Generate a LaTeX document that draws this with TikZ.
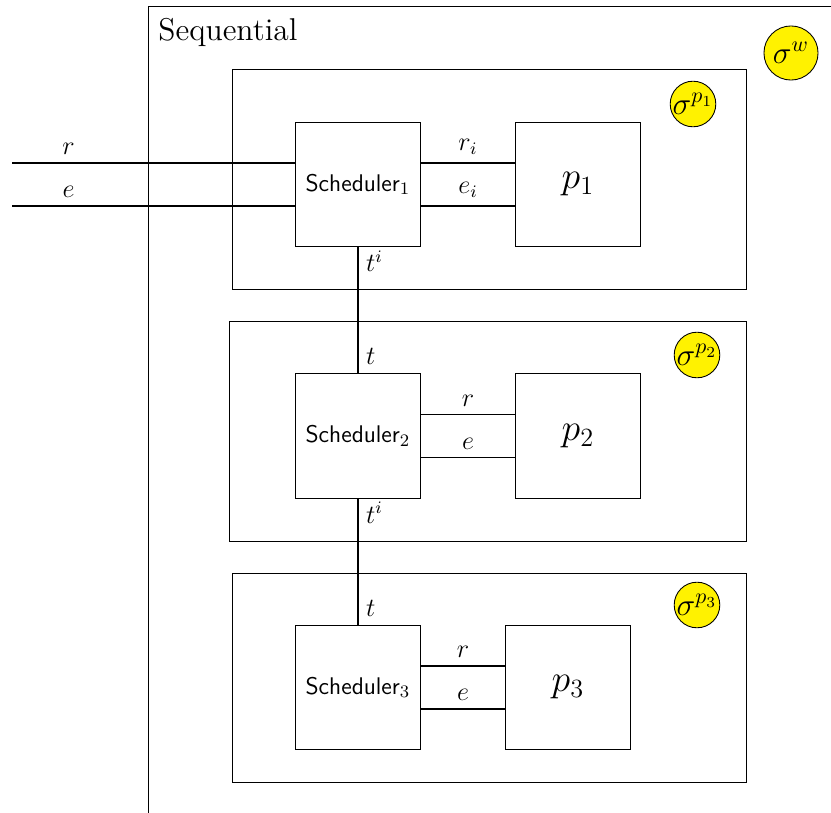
\documentclass[tikz,border=0pt]{standalone}
\usepackage{tikz}
\usetikzlibrary{positioning}

\begin{document}
\begin{tikzpicture}[
        x=0.4566pt, y=-0.4566pt,
        scheduler/.style={rectangle, draw, minimum width=57pt, minimum height=57pt, inner sep=0pt, font=\sffamily\fontsize{11}{13}\selectfont},
        process/.style={rectangle, draw, minimum width=57pt, minimum height=57pt, inner sep=0pt, font=\LARGE},
        stage/.style={rectangle, draw, inner sep=0pt},
        store/.style={circle, draw, fill=yellow, inner sep=0pt, font=\Large},
        wire/.style={thick},
        lbl/.style={font=\large}
    ]
%
    % Canvas
    \useasboundingbox (0,0) rectangle (831,813);
    \clip (0,0) rectangle (831,813);
%
    % Outer frame
    \draw (148,6) rectangle (900,900);
    \node[anchor=base west, inner sep=0pt, font=\Large] (title) at (158,41) {Sequential};
    \node[store, minimum size=24.7pt] (sw) at (791,53) {$\sigma^{w}$};
%
    % Stages
    \node[stage, minimum width=234.7pt, minimum height=100.5pt] (stage1) at (489,179) {};
    \node[stage, minimum width=236.1pt, minimum height=100.5pt] (stage2) at (487.5,431) {};
    \node[stage, minimum width=234.7pt, minimum height=95.4pt] (stage3) at (489,677.5) {};
%
    % States
    \node[store, minimum size=20pt] (sp1) at (693,104) {$\sigma^{p_1}$};
    \node[store, minimum size=20pt] (sp2) at (697,355) {$\sigma^{p_2}$};
    \node[store, minimum size=20pt] (sp3) at (697,605) {$\sigma^{p_3}$};
%
    % Schedulers and processes
    \node[scheduler] (s1) at (358,184.5) {Scheduler$_1$};
    \node[scheduler] (s2) at (358,436) {Scheduler$_2$};
    \node[scheduler] (s3) at (358,687.5) {Scheduler$_3$};
    \node[process] (p1) at (578,184.5) {$p_1$};
    \node[process] (p2) at (578,436) {$p_2$};
    \node[process] (p3) at (568,687.5) {$p_3$};
%
    % Inputs
    \coordinate (rin) at (12,163);
    \coordinate (ein) at (12,206);
    \draw[wire] (rin) -- (rin -| s1.west) node[lbl, pos=0.2, above] {$r$};
    \draw[wire] (ein) -- (ein -| s1.west) node[lbl, pos=0.2, above] {$e$};
%
    % Scheduler to process
    \draw[wire] ([yshift=9.8pt]s1.east) -- ([yshift=9.8pt]p1.west) node[lbl, midway, above] {$r_i$};
    \draw[wire] ([yshift=-9.8pt]s1.east) -- ([yshift=-9.8pt]p1.west) node[lbl, midway, above] {$e_i$};
    \draw[wire] ([yshift=9.8pt]s2.east) -- ([yshift=9.8pt]p2.west) node[lbl, midway, above] {$r$};
    \draw[wire] ([yshift=-9.8pt]s2.east) -- ([yshift=-9.8pt]p2.west) node[lbl, midway, above] {$e$};
    \draw[wire] ([yshift=9.8pt]s3.east) -- ([yshift=9.8pt]p3.west) node[lbl, midway, above] {$r$};
    \draw[wire] ([yshift=-9.8pt]s3.east) -- ([yshift=-9.8pt]p3.west) node[lbl, midway, above] {$e$};
%
    % Token chain
    \draw[wire] (s1.south) -- (s2.north)
        node[lbl, pos=0.11, right] {$t^i$}
        node[lbl, pos=0.87, right] {$t$};
    \draw[wire] (s2.south) -- (s3.north)
        node[lbl, pos=0.11, right] {$t^i$}
        node[lbl, pos=0.87, right] {$t$};
%
\end{tikzpicture}
\end{document}
